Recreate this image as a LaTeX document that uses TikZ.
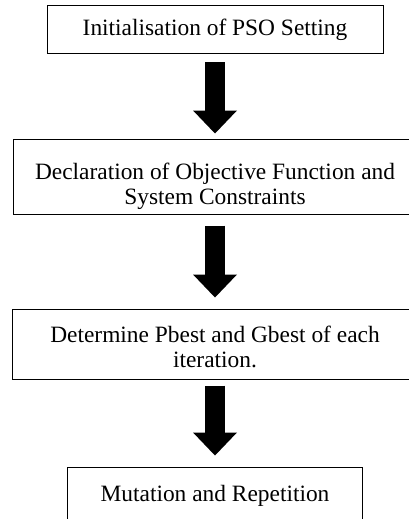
\documentclass[tikz,border=0pt]{standalone}
\usepackage{fontspec}
\setmainfont{Liberation Serif}
\usetikzlibrary{arrows.meta, positioning}

\begin{document}
\begin{tikzpicture}[x=1pt, y=1pt, every node/.style={font=\fontsize{23.4}{25}\selectfont}]
\tikzstyle{stepbox}=[draw, line width=1pt, align=center, inner sep=0pt]
\tikzstyle{fatarrow}=[line width=20pt, -{Triangle[width=44pt, length=23pt, line width=0pt]}]

\useasboundingbox (0,-519) rectangle (408,0);

\node[stepbox, minimum width=336pt, minimum height=48pt] (init) at (215,-30) {Initialisation of PSO Setting};
\node[stepbox, minimum width=404pt, minimum height=75pt, below=84pt of init] (decl) {\rule{0pt}{37pt}Declaration of Objective Function and\\System Constraints};
\node[stepbox, minimum width=406pt, minimum height=70pt, below=94pt of decl] (best) {\rule{0pt}{23pt}Determine Pbest and Gbest of each\\iteration.};
\node[stepbox, minimum width=295pt, text height=16pt, text depth=50pt, inner ysep=18pt, below=87pt of best] (mut) {Mutation and Repetition};

\draw[fatarrow, shorten <=8pt, shorten >=5pt](init)--(decl);
\draw[fatarrow, shorten <=11pt, shorten >=11pt](decl)--(best);
\draw[fatarrow, shorten <=6pt, shorten >=11pt](best)--(mut);
\end{tikzpicture}
\end{document}
